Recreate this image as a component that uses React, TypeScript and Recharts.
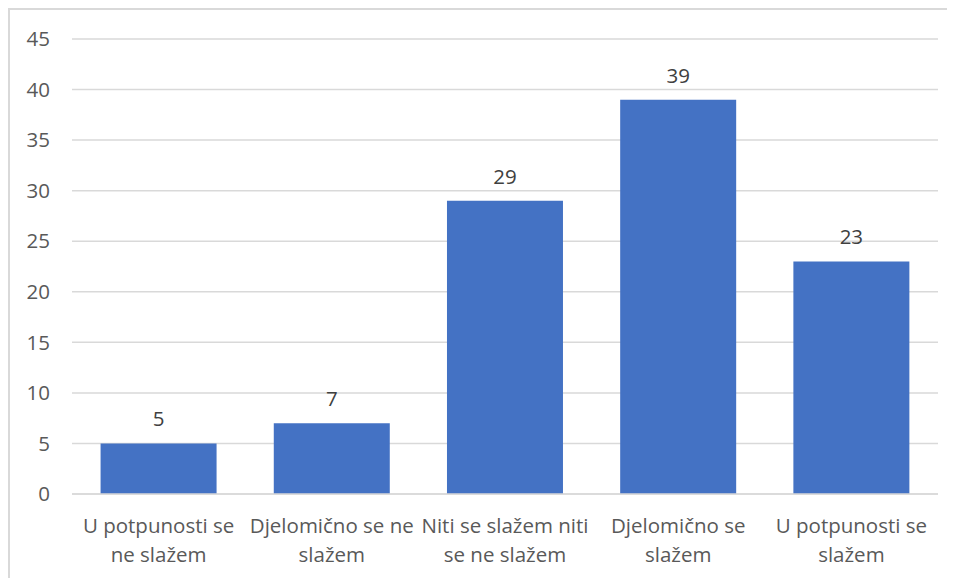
import { BarChart, Bar, XAxis, YAxis, CartesianGrid, LabelList } from "recharts";

const categories = [
  "U potpunosti se\nne slažem",
  "Djelomično se ne\nslažem",
  "Niti se slažem niti\nse ne slažem",
  "Djelomično se\nslažem",
  "U potpunosti se\nslažem",
];
const counts = [5, 7, 29, 39, 23];
const yTicks = [0, 5, 10, 15, 20, 25, 30, 35, 40, 45];

const data = categories.map((name, i) => ({ name, value: counts[i] }));

const FONT = "'Open Sans', sans-serif";

function WrappedTick({ x, y, payload }: any) {
  const lines = String(payload.value).split("\n");
  return (
    <text x={x} y={y} textAnchor="middle" fill="#595959" fontSize={20.5} fontFamily={FONT}>
      {lines.map((line, i) => (
        <tspan key={i} x={x} dy={i === 0 ? 31 : 29}>
          {line}
        </tspan>
      ))}
    </text>
  );
}

export default function App() {
  return (
    <div
      style={{
        width: 943,
        height: 568,
        border: "2px solid #d9d9d9",
        background: "#fff",
      }}
    >
      <BarChart
        width={943}
        height={568}
        data={data}
        margin={{ top: 29, right: 15, bottom: 0, left: 0 }}
        barCategoryGap="16.5%"
      >
        <CartesianGrid vertical={false} stroke="#d9d9d9" strokeWidth={1.5} />
        <XAxis
          dataKey="name"
          axisLine={{ stroke: "#d9d9d9", strokeWidth: 1.5 }}
          tickLine={false}
          height={84}
          interval={0}
          tick={<WrappedTick />}
        />
        <YAxis
          domain={[0, 45]}
          ticks={yTicks}
          width={62}
          axisLine={false}
          tickLine={false}
          tickSize={0}
          tickMargin={22}
          tick={{ fill: "#595959", fontSize: 20.5, fontFamily: FONT }}
        />
        <Bar dataKey="value" fill="#4472C4" isAnimationActive={false}>
          <LabelList
            dataKey="value"
            position="top"
            offset={17}
            fill="#404040"
            fontSize={20.5}
            fontFamily={FONT}
          />
        </Bar>
      </BarChart>
    </div>
  );
}
